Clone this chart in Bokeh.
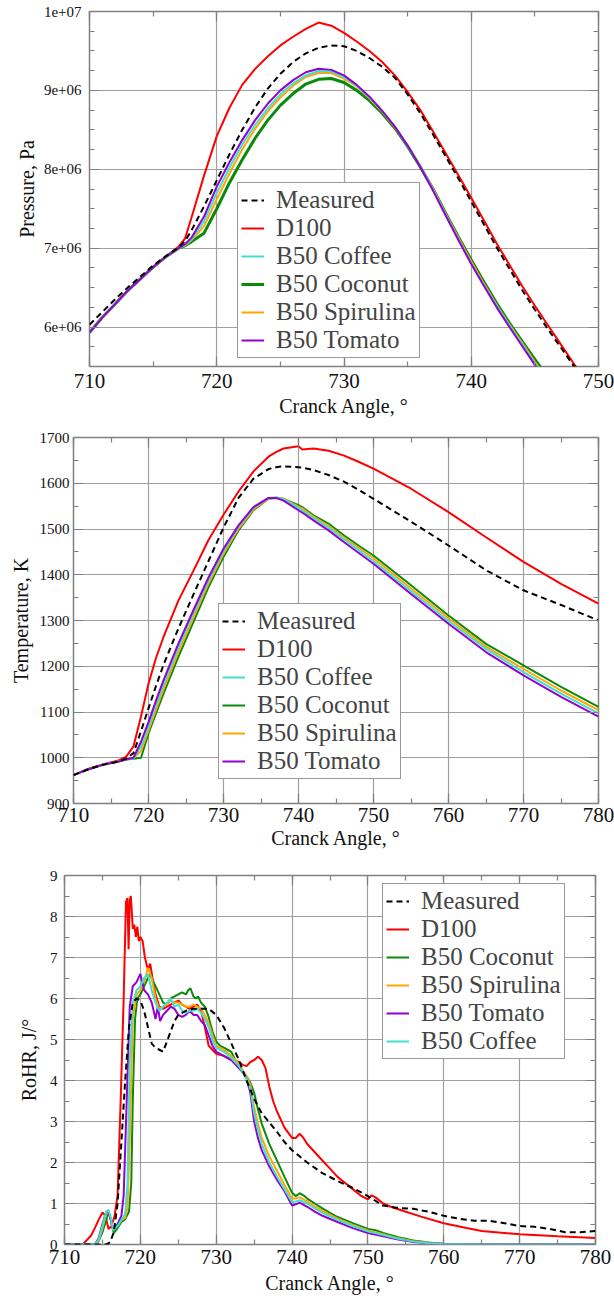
import numpy as np
from bokeh.plotting import figure
from bokeh.models import Range1d, FixedTicker, LinearAxis, Legend, LegendItem
from bokeh.embed import file_html
from bokeh.resources import INLINE

# ---------------- data ----------------
labels = ["Measured", "D100", "B50 Coffee", "B50 Coconut", "B50 Spirulina", "B50 Tomato"]

# Panel 1: cylinder pressure (Pa)
p_angle = [710, 711, 712, 713, 714, 715, 716, 717, 717.5, 718, 719, 720, 721, 722, 723, 724, 725, 726, 727,
           728, 729, 730, 731, 732, 733, 734, 735, 736, 737, 738, 739, 740, 741, 742, 743, 744, 745, 746,
           747, 748, 749, 750]
p_measured = [6.03e6, 6.19e6, 6.35e6, 6.50e6, 6.64e6, 6.78e6, 6.90e6, 7.01e6, 7.09e6, 7.22e6, 7.53e6, 7.86e6,
              8.19e6, 8.50e6, 8.78e6, 9.02e6, 9.21e6, 9.36e6, 9.47e6, 9.54e6, 9.57e6, 9.56e6, 9.50e6, 9.41e6,
              9.30e6, 9.16e6, 8.95e6, 8.71e6, 8.44e6, 8.16e6, 7.88e6, 7.59e6, 7.30e6, 7.01e6, 6.74e6, 6.47e6,
              6.22e6, 5.98e6, 5.75e6, 5.52e6, 5.30e6, 5.08e6]
p_d100 = [5.93e6, 6.12e6, 6.29e6, 6.46e6, 6.61e6, 6.76e6, 6.89e6, 7.02e6, 7.12e6, 7.38e6, 7.92e6, 8.42e6,
          8.78e6, 9.07e6, 9.27e6, 9.43e6, 9.57e6, 9.68e6, 9.78e6, 9.86e6, 9.82e6, 9.73e6, 9.62e6, 9.50e6,
          9.36e6, 9.19e6, 8.98e6, 8.75e6, 8.48e6, 8.20e6, 7.92e6, 7.64e6, 7.35e6, 7.06e6, 6.79e6, 6.52e6,
          6.27e6, 6.03e6, 5.79e6, 5.55e6, 5.32e6, 5.10e6]
p_coffee = [5.93e6, 6.12e6, 6.29e6, 6.46e6, 6.61e6, 6.76e6, 6.89e6, 7.00e6, 7.04e6, 7.11e6, 7.34e6, 7.70e6,
            8.02e6, 8.31e6, 8.56e6, 8.77e6, 8.95e6, 9.09e6, 9.19e6, 9.245e6, 9.24e6, 9.17e6, 9.06e6, 8.91e6,
            8.74e6, 8.54e6, 8.30e6, 8.04e6, 7.74e6, 7.42e6, 7.11e6, 6.81e6, 6.53e6, 6.27e6, 6.02e6, 5.78e6,
            5.54e6, 5.32e6, 5.10e6, 4.90e6, 4.70e6, 4.52e6]
p_coconut = [5.93e6, 6.12e6, 6.29e6, 6.46e6, 6.61e6, 6.76e6, 6.89e6, 7.00e6, 7.03e6, 7.08e6, 7.19e6, 7.50e6,
             7.83e6, 8.12e6, 8.39e6, 8.62e6, 8.81e6, 8.96e6, 9.08e6, 9.14e6, 9.15e6, 9.10e6, 9.00e6, 8.87e6,
             8.71e6, 8.52e6, 8.29e6, 8.03e6, 7.75e6, 7.44e6, 7.14e6, 6.85e6, 6.57e6, 6.30e6, 6.05e6, 5.82e6,
             5.59e6, 5.37e6, 5.16e6, 4.96e6, 4.77e6, 4.58e6]
p_spirulina = [5.93e6, 6.12e6, 6.29e6, 6.46e6, 6.61e6, 6.76e6, 6.89e6, 7.00e6, 7.035e6, 7.10e6, 7.28e6, 7.62e6,
               7.95e6, 8.25e6, 8.51e6, 8.73e6, 8.91e6, 9.06e6, 9.17e6, 9.22e6, 9.22e6, 9.15e6, 9.05e6, 8.90e6,
               8.73e6, 8.53e6, 8.30e6, 8.04e6, 7.75e6, 7.43e6, 7.13e6, 6.83e6, 6.55e6, 6.28e6, 6.03e6, 5.80e6,
               5.56e6, 5.34e6, 5.12e6, 4.92e6, 4.72e6, 4.54e6]
p_tomato = [5.93e6, 6.12e6, 6.29e6, 6.46e6, 6.61e6, 6.76e6, 6.89e6, 7.00e6, 7.05e6, 7.13e6, 7.40e6, 7.78e6,
            8.09e6, 8.37e6, 8.62e6, 8.83e6, 9.00e6, 9.13e6, 9.23e6, 9.275e6, 9.26e6, 9.19e6, 9.07e6, 8.92e6,
            8.74e6, 8.54e6, 8.30e6, 8.03e6, 7.73e6, 7.41e6, 7.10e6, 6.80e6, 6.52e6, 6.25e6, 6.00e6, 5.76e6,
            5.52e6, 5.30e6, 5.08e6, 4.88e6, 4.68e6, 4.50e6]
p_ticks = [6e6, 7e6, 8e6, 9e6, 1e7]
p_tick_labels = ["6e+06", "7e+06", "8e+06", "9e+06", "1e+07"]

# Panel 2: temperature (K)
t_angle = [710, 712, 714, 716, 717, 718, 719, 720, 721, 722, 724, 726, 728, 730, 732, 734, 736, 737, 738, 740,
           740.5, 742, 744, 746, 748, 750, 755, 760, 765, 770, 775, 780]
t_measured = [962, 975, 985, 992, 998, 1010, 1058, 1108, 1157, 1203, 1283, 1357, 1430, 1503, 1568, 1610, 1631,
              1635, 1637, 1635, 1634, 1629, 1618, 1604, 1586, 1566, 1516, 1464, 1410, 1366, 1334, 1300]
t_d100 = [962, 976, 986, 994, 1002, 1025, 1090, 1162, 1218, 1264, 1344, 1409, 1476, 1531, 1582, 1626, 1658,
          1668, 1676, 1681, 1674, 1676, 1671, 1661, 1647, 1632, 1588, 1537, 1482, 1428, 1380, 1337]
t_coffee = [962, 975, 985, 992, 996, 999, 1025, 1068, 1115, 1160, 1242, 1316, 1388, 1452, 1505, 1546, 1567,
            1569, 1565, 1546, 1541, 1524, 1503, 1478, 1454, 1430, 1364, 1299, 1238, 1187, 1140, 1097]
t_coconut = [962, 975, 985, 992, 996, 998, 1000, 1053, 1097, 1140, 1221, 1297, 1373, 1439, 1497, 1541, 1566,
             1568, 1566, 1552, 1548, 1530, 1512, 1487, 1464, 1442, 1377, 1311, 1249, 1202, 1155, 1111]
t_spirulina = [962, 975, 985, 992, 996, 999, 1015, 1060, 1105, 1150, 1232, 1307, 1381, 1446, 1501, 1543, 1566,
               1569, 1566, 1549, 1545, 1527, 1507, 1482, 1459, 1436, 1370, 1305, 1243, 1194, 1147, 1104]
t_tomato = [962, 975, 985, 992, 996, 1000, 1035, 1078, 1125, 1169, 1250, 1323, 1394, 1457, 1508, 1548, 1568,
            1568, 1562, 1541, 1536, 1519, 1497, 1472, 1448, 1424, 1358, 1293, 1231, 1180, 1133, 1090]

# Panel 3: rate of heat release (J/deg)
r_measured_angle = [710, 715.5, 716, 716.5, 717, 717.5, 718, 718.5, 719, 719.5, 720, 720.5, 721, 721.5, 722,
                    722.5, 723, 723.5, 724, 724.5, 725, 726, 727, 728, 729, 730, 731, 732, 733, 734, 735, 736,
                    737, 738, 739, 740, 742, 744, 746, 748, 750, 752, 754, 756, 758, 760, 762, 764, 766, 768,
                    770, 772, 774, 776, 778, 780]
r_measured = [0, 0, 0.05, 0.3, 1.0, 2.5, 4.0, 5.3, 5.9, 6.0, 5.95, 5.7, 5.3, 4.9, 4.8, 4.75, 4.7, 4.95, 5.2,
              5.45, 5.6, 5.7, 5.75, 5.75, 5.75, 5.6, 5.3, 4.9, 4.5, 4.0, 3.55, 3.2, 2.98, 2.75, 2.5, 2.3, 2.0,
              1.74, 1.55, 1.38, 1.18, 0.95, 0.89, 0.87, 0.8, 0.7, 0.63, 0.58, 0.58, 0.52, 0.45, 0.43, 0.38,
              0.3, 0.3, 0.33]
r_d100_angle = [710, 712.5, 713, 713.5, 714, 714.5, 715, 715.4, 715.8, 716.2, 716.6, 717, 717.4, 717.8, 718.1,
                718.3, 718.45, 718.6, 718.75, 719, 719.2, 719.4, 719.6, 719.8, 720, 720.3, 720.6, 721, 721.3,
                721.6, 722, 722.5, 723, 723.5, 724, 724.5, 725, 725.5, 726, 726.5, 727, 727.5, 728, 728.5,
                729, 729.5, 730, 731, 732, 733, 733.5, 734, 734.5, 735, 735.5, 736, 736.5, 737, 737.5, 738,
                739, 740, 740.5, 741, 741.5, 742, 743, 744, 745, 746, 747, 748, 749, 750, 750.5, 751, 752,
                753, 754, 755, 757, 760, 763, 765, 770, 775, 780]
r_d100 = [0, 0.02, 0.12, 0.22, 0.4, 0.6, 0.78, 0.7, 0.38, 0.45, 0.7, 1.2, 3.5, 6.0, 8.35, 8.45, 7.2, 8.4, 8.5,
          7.7, 7.8, 7.5, 7.75, 7.4, 7.5, 7.4, 7.0, 6.7, 6.85, 6.5, 6.1, 5.8, 5.75, 5.8, 5.85, 5.9, 5.95, 5.85,
          5.8, 5.75, 5.8, 5.85, 5.7, 5.3, 4.85, 4.75, 4.65, 4.6, 4.5, 4.45, 4.38, 4.35, 4.45, 4.5, 4.58, 4.5,
          4.3, 3.85, 3.5, 3.25, 2.85, 2.6, 2.6, 2.7, 2.6, 2.45, 2.25, 2.05, 1.85, 1.65, 1.5, 1.35, 1.2, 1.1,
          1.2, 1.15, 1.0, 0.92, 0.86, 0.8, 0.68, 0.52, 0.4, 0.33, 0.25, 0.2, 0.16]
r_coconut_angle = [710, 714, 714.5, 715, 715.5, 715.8, 716.1, 716.5, 717, 717.5, 718, 718.5, 718.8, 719, 719.3,
                   719.6, 720, 720.5, 721, 721.3, 721.6, 722, 722.5, 723, 723.5, 724, 724.5, 725, 725.5, 726,
                   726.3, 726.6, 727, 727.3, 727.6, 728, 728.5, 729, 729.5, 730, 730.5, 731, 731.5, 732, 732.5,
                   733, 733.5, 734, 734.5, 735, 735.5, 736, 737, 738, 739, 740, 740.5, 741, 741.5, 742, 743,
                   744, 745, 746, 748, 750, 751, 752, 754, 756, 758, 760, 765, 780]
r_coconut = [0, 0, 0.08, 0.3, 0.6, 0.8, 0.6, 0.28, 0.4, 0.55, 0.62, 0.8, 1.5, 3.5, 5.5, 6.0, 6.1, 6.3, 6.5, 6.6,
             6.45, 6.3, 6.1, 5.9, 5.85, 6.0, 6.05, 6.1, 6.15, 6.1, 6.2, 6.25, 6.05, 6.0, 6.05, 5.9, 5.8, 5.55,
             5.2, 4.95, 4.85, 4.8, 4.75, 4.7, 4.5, 4.4, 4.2, 4.1, 3.95, 3.7, 3.3, 2.95, 2.45, 2.05, 1.65, 1.26,
             1.18, 1.25, 1.2, 1.12, 1.0, 0.88, 0.77, 0.67, 0.52, 0.38, 0.35, 0.28, 0.18, 0.1, 0.05, 0.02, 0.0,
             0.0]
r_b50_angle = [710, 714, 714.5, 715, 715.5, 715.8, 716.1, 716.4, 717, 717.5, 718, 718.3, 718.6, 719, 719.5, 720,
               720.5, 721, 721.5, 722, 722.5, 723, 723.5, 724, 724.5, 725, 725.5, 726, 726.5, 727, 727.5, 728,
               728.5, 729, 729.5, 730, 731, 732, 733, 733.5, 734, 734.5, 735, 735.5, 736, 737, 738, 739, 740,
               740.5, 741, 742, 743, 744, 746, 748, 750, 752, 754, 756, 758, 760, 765, 780]
r_coffee = [0, 0, 0.12, 0.45, 0.8, 0.85, 0.65, 0.35, 0.45, 0.6, 0.75, 1.5, 4.5, 5.9, 6.2, 6.3, 6.5, 6.6, 6.2,
            5.9, 5.7, 5.8, 5.9, 6.0, 5.8, 5.85, 5.7, 5.65, 5.7, 5.7, 5.75, 5.65, 5.5, 5.3, 5.0, 4.8, 4.7, 4.55,
            4.35, 4.2, 4.05, 3.8, 3.2, 2.8, 2.45, 2.0, 1.66, 1.35, 1.03, 1.05, 1.08, 1.0, 0.88, 0.77, 0.6,
            0.45, 0.32, 0.23, 0.14, 0.07, 0.03, 0.01, 0.0, 0.0]
r_spirulina = [0, 0, 0.1, 0.4, 0.75, 0.8, 0.62, 0.35, 0.5, 0.6, 0.65, 0.9, 2.5, 5.5, 6.1, 6.2, 6.4, 6.75, 6.5,
               6.0, 5.75, 5.8, 5.85, 5.95, 5.9, 5.9, 5.85, 5.8, 5.8, 5.85, 5.8, 5.75, 5.6, 5.4, 5.1, 4.85, 4.75,
               4.6, 4.4, 4.25, 4.1, 3.9, 3.35, 2.95, 2.6, 2.15, 1.8, 1.45, 1.12, 1.12, 1.15, 1.05, 0.93, 0.82,
               0.63, 0.48, 0.34, 0.25, 0.15, 0.08, 0.04, 0.01, 0.0, 0.0]
r_tomato_angle = [710, 714, 714.5, 715, 715.5, 715.8, 716.1, 716.4, 717, 717.5, 717.8, 718.2, 718.6, 719, 719.5,
                  720, 720.5, 721, 721.5, 722, 722.3, 722.6, 723, 723.5, 724, 724.5, 725, 725.5, 726, 726.5,
                  727, 727.5, 728, 728.5, 729, 729.5, 730, 731, 732, 733, 733.5, 734, 734.5, 735, 735.5, 736,
                  737, 738, 739, 740, 740.5, 741, 742, 743, 744, 746, 748, 750, 752, 754, 756, 758, 760, 765,
                  780]
r_tomato = [0, 0, 0.15, 0.5, 0.8, 0.82, 0.6, 0.35, 0.5, 0.7, 1.2, 3.5, 5.8, 6.3, 6.4, 6.6, 6.2, 6.1, 5.9, 5.5,
            5.8, 5.45, 5.6, 5.7, 5.8, 5.75, 5.6, 5.55, 5.6, 5.7, 5.6, 5.6, 5.45, 5.35, 5.1, 4.85, 4.7, 4.6, 4.5,
            4.3, 4.2, 4.05, 3.7, 3.0, 2.6, 2.3, 1.9, 1.58, 1.3, 0.95, 0.98, 1.02, 0.92, 0.8, 0.7, 0.55, 0.4,
            0.28, 0.2, 0.12, 0.06, 0.03, 0.01, 0.0, 0.0]

# ---------------- styling ----------------
SERIF = "Liberation Serif"
COL = {"Measured": "black", "D100": "#ff0000", "B50 Coffee": "#40e0d0", "B50 Coconut": "#0a8a0a",
       "B50 Spirulina": "#ffa500", "B50 Tomato": "#9400d3"}
GRAY = "#808080"
LEG_FONT = "25px"


def style_axis(ax, font_size, standoff, label_standoff, show=True):
    ax.major_tick_in = 10
    ax.major_tick_out = 0
    ax.minor_tick_in = 5
    ax.minor_tick_out = 0
    ax.major_tick_line_color = GRAY
    ax.minor_tick_line_color = GRAY
    ax.major_tick_line_width = 1.2
    ax.minor_tick_line_width = 1.2
    ax.axis_line_color = None
    ax.major_label_text_font = SERIF
    ax.axis_label_text_font = SERIF
    ax.axis_label_text_font_size = "20px"
    ax.axis_label_text_font_style = "normal"
    ax.axis_label_text_color = "#111111"
    if show:
        ax.major_label_text_color = "#111111"
        ax.major_label_text_font_size = font_size
        ax.major_label_standoff = standoff
        ax.axis_label_standoff = label_standoff
    else:
        ax.major_label_text_color = None
        ax.major_label_text_font_size = "1px"
        ax.major_label_standoff = 0


def make_fig(h, left, right, top, bottom, xr, yr, xt, yt, ylabel, xstand, xlabstand, ystand, ylabstand,
             ylabels=None):
    p = figure(width=614, height=h, x_range=Range1d(*xr), y_range=Range1d(*yr),
               output_backend="svg", toolbar_location=None,
               min_border_left=left, min_border_right=right, min_border_top=top, min_border_bottom=bottom)
    p.outline_line_color = GRAY
    p.outline_line_width = 1.5
    p.background_fill_color = "white"
    p.border_fill_color = "white"
    xticker = FixedTicker(ticks=xt[0], minor_ticks=xt[1])
    yticker = FixedTicker(ticks=yt[0], minor_ticks=yt[1])
    p.xaxis.ticker = xticker
    p.yaxis.ticker = yticker
    p.xgrid.ticker = xticker
    p.ygrid.ticker = yticker
    for g in (p.xgrid, p.ygrid):
        g.grid_line_color = "#a0a0a0"
        g.grid_line_width = 1.2
    style_axis(p.xaxis[0], "21px", xstand, xlabstand)
    style_axis(p.yaxis[0], "15px", ystand, ylabstand)
    p.xaxis.axis_label = "Cranck Angle, \u00b0"
    p.yaxis.axis_label = ylabel
    if ylabels is not None:
        p.yaxis.major_label_overrides = ylabels
    top_ax = LinearAxis(ticker=xticker)
    right_ax = LinearAxis(ticker=yticker)
    style_axis(top_ax, "1px", 0, 0, show=False)
    style_axis(right_ax, "1px", 0, 0, show=False)
    p.add_layout(top_ax, "above")
    p.add_layout(right_ax, "right")
    return p


def add_legend(p, renderers, order, loc):
    items = [LegendItem(label=name, renderers=[renderers[name]]) for name in order]
    leg = Legend(items=items, location=loc, label_text_font=SERIF, label_text_font_size=LEG_FONT,
                 glyph_width=23, glyph_height=20, label_height=20, label_standoff=12, spacing=0,
                 padding=3, margin=0, border_line_color="#333333", border_line_width=1.5,
                 background_fill_color="white", background_fill_alpha=1.0)
    p.add_layout(leg)


def draw(p, x_of, y_of, draw_order, widths=None):
    rs = {}
    for name in draw_order:
        w = 2.0 if widths is None else widths.get(name, 2.0)
        if name == "Measured":
            r = p.line(x_of[name], y_of[name], line_color="black", line_width=2, line_dash="6 4")
        else:
            r = p.line(x_of[name], y_of[name], line_color=COL[name], line_width=w)
        rs[name] = r
    return rs


# ---------------- panel 1 ----------------
p1 = make_fig(430, 89, 16, 11, 64, (710, 750), (5.5e6, 1e7),
              (list(range(710, 751, 10)), list(range(710, 751, 5))),
              (p_ticks, list(np.arange(5.5e6, 1.0001e7, 2.5e5))),
              "Pressure, Pa", 7, 4, 8, 3, ylabels=dict(zip(p_ticks, p_tick_labels)))
x1 = {n: p_angle for n in labels}
y1 = dict(zip(labels, [p_measured, p_d100, p_coffee, p_coconut, p_spirulina, p_tomato]))
r1 = draw(p1, x1, y1, ["D100", "B50 Coconut", "B50 Spirulina", "B50 Coffee", "B50 Tomato", "Measured"],
          widths={"B50 Coconut": 3.0})
add_legend(p1, r1, labels, (148, 8))

# ---------------- panel 2 ----------------
p2 = make_fig(430, 73, 16, 7, 57, (710, 780), (900, 1700),
              (list(range(710, 781, 10)), list(range(710, 781, 5))),
              (list(range(900, 1701, 100)), list(range(900, 1701, 50))),
              "Temperature, K", 4, 2, 4, 5)
x2 = {n: t_angle for n in labels}
y2 = dict(zip(labels, [t_measured, t_d100, t_coffee, t_coconut, t_spirulina, t_tomato]))
r2 = draw(p2, x2, y2, ["D100", "B50 Coconut", "B50 Spirulina", "B50 Coffee", "B50 Tomato", "Measured"])
add_legend(p2, r2, labels, (145, 24))

# ---------------- panel 3 ----------------
p3 = make_fig(436, 64, 19, 15, 51, (710, 780), (0, 9),
              (list(range(710, 781, 10)), list(range(710, 781, 5))),
              (list(range(0, 10)), list(np.arange(0, 9.01, 0.5))),
              "RoHR, J/\u00b0", 5, 5, 7, 7)
x3 = {"Measured": r_measured_angle, "D100": r_d100_angle, "B50 Coconut": r_coconut_angle,
      "B50 Spirulina": r_b50_angle, "B50 Tomato": r_tomato_angle, "B50 Coffee": r_b50_angle}
y3 = {"Measured": r_measured, "D100": r_d100, "B50 Coconut": r_coconut, "B50 Spirulina": r_spirulina,
      "B50 Tomato": r_tomato, "B50 Coffee": r_coffee}
for k in x3:
    assert len(x3[k]) == len(y3[k]), k
r3 = draw(p3, x3, y3, ["D100", "B50 Coconut", "B50 Spirulina", "B50 Tomato", "B50 Coffee", "Measured"])
add_legend(p3, r3, ["Measured", "D100", "B50 Coconut", "B50 Spirulina", "B50 Tomato", "B50 Coffee"],
           (318, 185))

open("out.html", "w").write(file_html([p1, p2, p3], INLINE))
